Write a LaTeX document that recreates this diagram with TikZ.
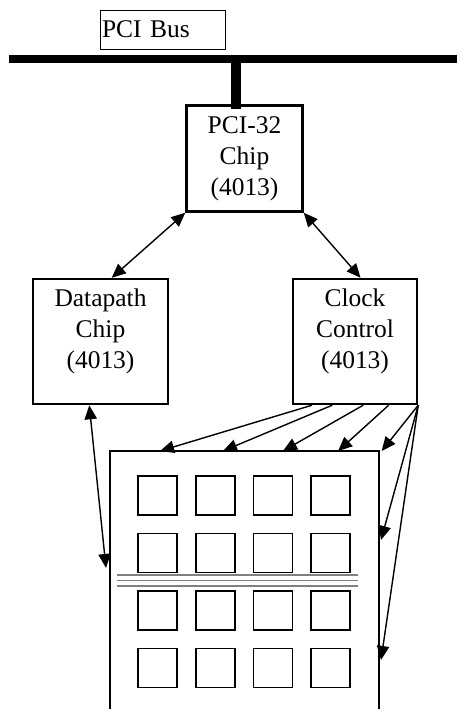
\documentclass[tikz,border=0pt]{standalone}
\usepackage{fontspec}
\setmainfont{Liberation Serif}
\usetikzlibrary{arrows.meta,calc}

\begin{document}
\begin{tikzpicture}[x=0.02cm,y=-0.02cm,
		chipnode/.style={draw, line width=1.4pt, align=center, minimum height=2.5cm, inner sep=0pt,
			font=\fontsize{14.5}{17.6}\selectfont},
		cellnode/.style={draw, line width=1pt, minimum size=0.78cm, inner sep=0pt},
		link/.style={line width=0.8pt, -{Triangle[length=8pt,width=7pt]}},
		duplex/.style={line width=0.8pt, {Triangle[length=8pt,width=7pt]}-{Triangle[length=8pt,width=7pt]}}
	]
	\useasboundingbox (0,0) rectangle (457,709);

	\node[draw, line width=0.5pt, text width=2.42cm, inner xsep=0.04cm, minimum height=0.78cm, align=left,
		font=\fontsize{14.5}{17.6}\selectfont] (buslbl) at (162.5,29.5) {PCI Bus};
	\coordinate (busL) at (9,59);
	\coordinate (busR) at (457,59);
	\draw[line width=0.16cm] (busL) -- (busR);

	\node[chipnode, minimum width=2.32cm, minimum height=2.12cm] (pci) at (244.5,158.5) {PCI-32\\Chip\\(4013)};
	\node[chipnode, minimum width=2.7cm, text depth=0.52cm] (dp) at (100.5,341.5) {Datapath\\Chip\\(4013)};
	\node[chipnode, minimum width=2.48cm, text depth=0.52cm] (cc) at (355,341.5) {Clock\\Control\\(4013)};

	\draw[line width=0.2cm] (235.5,59) -- (235.5,109);

	% the array
	\coordinate (arrTL) at (110,451);
	\coordinate (arrTR) at (379,451);
	\coordinate (arrBL) at (110,709);
	\coordinate (arrBR) at (379,709);
	\draw[line width=1.3pt] (arrBL) -- (arrTL) -- (arrTR) -- (arrBR);

	\foreach \i in {0,...,3}
		\foreach \j in {0,...,3}
			\node[cellnode] (cell-\i-\j) at (157.5+57.7*\i,495.5+57.5*\j) {};

	\coordinate (cutL) at (117,575);
	\coordinate (cutR) at (358,575);
	\foreach \d in {0,5.5,11}
		\draw[gray, line width=0.6pt] ($(cutL)+(0,\d)$) -- ($(cutR)+(0,\d)$);

	\draw[duplex] (pci.south west) -- (dp.80);
	\draw[duplex] (pci.south east) -- (cc.85);
	\coordinate (dpin) at (106,568);
	\draw[duplex] (dp.-100) -- (dpin);

	\foreach \s/\e in {0.16/0.186, 0.32/0.42, 0.565/0.643, 0.766/0.848, 1/1.01}
		\draw[link] ($(cc.south west)!\s!(cc.south east)$) -- ($(arrTL)!\e!(arrTR)$);
	\coordinate (side1) at (381,540);
	\coordinate (side2) at (381,660);
	\draw[link] (cc.south east) -- (side1);
	\draw[link] (cc.south east) -- (side2);
\end{tikzpicture}
\end{document}
